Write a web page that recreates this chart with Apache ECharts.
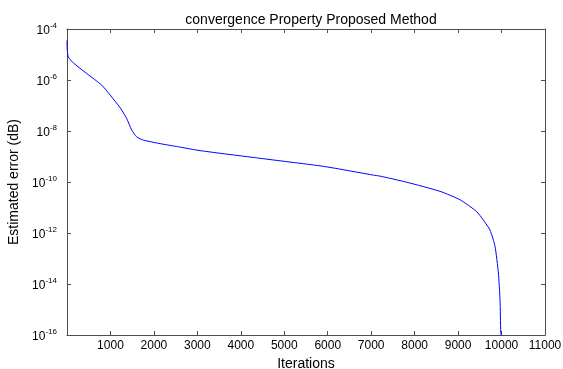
<!DOCTYPE html>
<html>
<head>
<meta charset="utf-8">
<script src="https://cdn.jsdelivr.net/npm/echarts@6/dist/echarts.min.js"></script>
<style>
  html, body { margin: 0; padding: 0; background: #fff; }
  #chart { width: 563px; height: 369px; }
</style>
</head>
<body>
<div id="chart"></div>
<script>
// Iteration numbers and the estimated error at each of them
const iterations = [0, 3, 10, 30, 145, 453, 798, 990, 1220, 1373, 1488, 1603, 1757, 2140, 2562, 3061,
  4442, 5823, 6283, 7050, 7204, 7818, 8585, 9045, 9428, 9582, 9735, 9850, 9927, 9965, 9981, 9990];
const estimatedError = [3.6e-5, 2.0e-5, 1.3e-5, 8.0e-6, 4.7e-6, 1.8e-6, 6.3e-7, 2.6e-7, 8.3e-8, 3.1e-8,
  1.1e-8, 5.9e-9, 4.4e-9, 3.2e-9, 2.4e-9, 1.7e-9,
  8.5e-10, 4.3e-10, 3.2e-10, 1.86e-10, 1.7e-10, 9.8e-11, 4.3e-11, 2.0e-11, 6.9e-12, 3.2e-12, 1.3e-12,
  3.0e-13, 2.7e-14, 2.4e-15, 1.3e-16, 1e-16];
const xTicks = [0, 1000, 2000, 3000, 4000, 5000, 6000, 7000, 8000, 9000, 10000, 11000];
const yExponents = [-16, -14, -12, -10, -8, -6, -4];

const points = iterations.map((x, i) => [x, estimatedError[i]]);
const axisColor = '#4d4d4d';
const font = 'Liberation Sans, Arial, sans-serif';

const chart = echarts.init(document.getElementById('chart'), null, { renderer: 'canvas' });

const xBase = {
  type: 'value',
  min: xTicks[0],
  max: xTicks[xTicks.length - 1],
  interval: 1000,
  splitLine: { show: false },
  axisLine: { show: true, onZero: false, lineStyle: { color: axisColor, width: 1 } },
  axisTick: { show: true, inside: true, length: 4, lineStyle: { color: axisColor } }
};
const yBase = {
  type: 'log',
  logBase: 10,
  min: Math.pow(10, yExponents[0]),
  max: Math.pow(10, yExponents[yExponents.length - 1]),
  interval: 2,
  splitLine: { show: false },
  axisLine: { show: true, onZero: false, lineStyle: { color: axisColor, width: 1 } },
  axisTick: { show: true, inside: true, length: 4, lineStyle: { color: axisColor } }
};

chart.setOption({
  animation: false,
  backgroundColor: '#ffffff',
  title: {
    text: 'convergence Property Proposed Method',
    left: 306,
    top: 8,
    textAlign: 'center',
    textStyle: { fontFamily: font, fontSize: 14, fontWeight: 'normal', color: '#000' }
  },
  grid: { left: 67, right: 18, top: 29, bottom: 34, containLabel: false, outerBoundsMode: 'none' },
  xAxis: [
    Object.assign({}, xBase, {
      position: 'bottom',
      name: 'Iterations',
      nameLocation: 'middle',
      nameGap: 19,
      nameTextStyle: { fontFamily: font, fontSize: 14, color: '#000' },
      axisLabel: {
        show: true, margin: 5, fontFamily: font, fontSize: 12, color: '#000',
        formatter: v => (v === 0 ? '' : String(v))
      }
    }),
    Object.assign({}, xBase, { position: 'top', axisLabel: { show: false } })
  ],
  yAxis: [
    Object.assign({}, yBase, {
      position: 'left',
      name: 'Estimated error (dB)',
      nameLocation: 'middle',
      nameGap: 45,
      nameRotate: 90,
      nameTextStyle: { fontFamily: font, fontSize: 14, color: '#000' },
      axisLabel: {
        show: true, margin: 10, color: '#000',
        formatter: v => '{b|10}{s|' + Math.round(Math.log10(v)) + '}',
        rich: {
          b: { fontFamily: font, fontSize: 12, color: '#000', padding: [3, 0, 0, 0] },
          s: { fontFamily: font, fontSize: 8, color: '#000', padding: [0, 0, 7, 0] }
        }
      }
    }),
    Object.assign({}, yBase, { position: 'right', axisLabel: { show: false } })
  ],
  series: [{
    type: 'line',
    xAxisIndex: 0,
    yAxisIndex: 0,
    data: points,
    showSymbol: false,
    symbol: 'none',
    smooth: 0.2,
    lineStyle: { color: '#0000ff', width: 1 },
    clip: true
  }]
});
</script>
</body>
</html>
